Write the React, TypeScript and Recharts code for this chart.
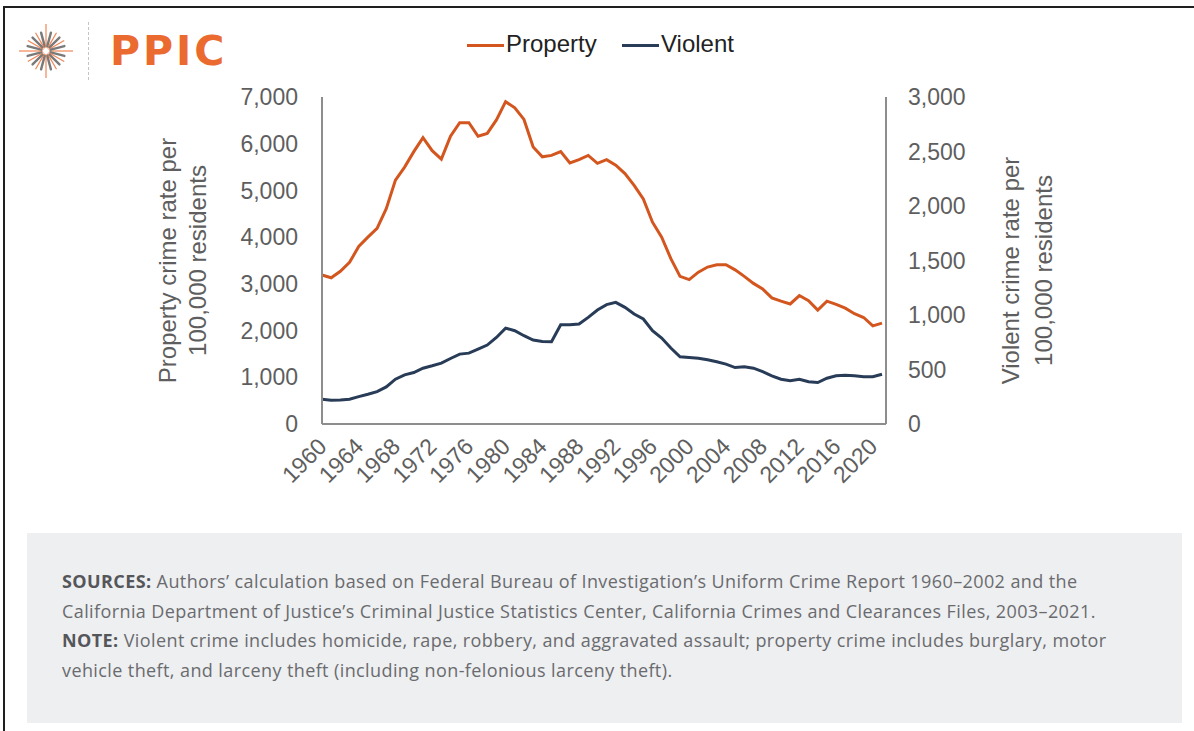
import React from "react";
import { LineChart, Line, XAxis, YAxis } from "recharts";

// Crime rates per 100,000 residents, California 1960–2021
const years = [
  1960, 1961, 1962, 1963, 1964, 1965, 1966, 1967, 1968, 1969,
  1970, 1971, 1972, 1973, 1974, 1975, 1976, 1977, 1978, 1979,
  1980, 1981, 1982, 1983, 1984, 1985, 1986, 1987, 1988, 1989,
  1990, 1991, 1992, 1993, 1994, 1995, 1996, 1997, 1998, 1999,
  2000, 2001, 2002, 2003, 2004, 2005, 2006, 2007, 2008, 2009,
  2010, 2011, 2012, 2013, 2014, 2015, 2016, 2017, 2018, 2019,
  2020, 2021,
];

const propertyRate = [
  3190, 3130, 3270, 3460, 3800, 4000, 4190, 4610, 5220, 5500,
  5830, 6130, 5850, 5670, 6160, 6450, 6450, 6160, 6220, 6510,
  6900, 6770, 6520, 5930, 5720, 5750, 5830, 5590, 5660, 5750,
  5580, 5660, 5540, 5360, 5110, 4820, 4320, 4000, 3540, 3160,
  3090, 3250, 3360, 3410, 3410, 3300, 3160, 3010, 2890, 2700,
  2630, 2570, 2750, 2640, 2440, 2630, 2560, 2480, 2360, 2280,
  2100, 2160,
];

const violentRate = [
  227, 218, 221, 227, 251, 273, 297, 340, 411, 451,
  472, 512, 534, 558, 601, 641, 650, 687, 724, 794,
  880, 856, 810, 770, 757, 754, 911, 911, 917, 978,
  1046, 1095, 1116, 1070, 1009, 963, 856, 789, 697, 617,
  610, 604, 589, 571, 549, 518, 525, 512, 481, 442,
  411, 396, 411, 387, 380, 420, 442, 448, 442, 433,
  433, 457,
];

const yearTicks = [
  1960, 1964, 1968, 1972, 1976, 1980, 1984, 1988,
  1992, 1996, 2000, 2004, 2008, 2012, 2016, 2020,
];
const propertyTicks = [0, 1000, 2000, 3000, 4000, 5000, 6000, 7000];
const violentTicks = [0, 500, 1000, 1500, 2000, 2500, 3000];

const series = [
  { key: "property", name: "Property", color: "#d4561f", axis: "left" },
  { key: "violent", name: "Violent", color: "#283c58", axis: "right" },
];

const data = years.map((year, i) => ({
  year,
  property: propertyRate[i],
  violent: violentRate[i],
}));

const FONT = "'Liberation Sans', Arial, sans-serif";
const TEXT_GRAY = "#5e5e5e";
const AXIS_GRAY = "#8d8d8d";

const fmt = (v: number) => v.toLocaleString("en-US");

function YearTick({ x, y, payload }: any) {
  const ax = x + 6;
  const ay = y + 22;
  return (
    <text
      x={ax}
      y={ay}
      transform={`rotate(-45, ${ax}, ${ay})`}
      textAnchor="end"
      fill={TEXT_GRAY}
      fontSize={23}
      fontFamily={FONT}
    >
      {payload.value}
    </text>
  );
}

function AxisTitle({ viewBox, lines, baseX, dy }: any) {
  const cy = viewBox.y + viewBox.height / 2 + (dy || 0);
  return (
    <g>
      {lines.map((line: string, i: number) => (
        <text
          key={line}
          x={baseX[i]}
          y={cy}
          transform={`rotate(-90, ${baseX[i]}, ${cy})`}
          textAnchor="middle"
          fill={TEXT_GRAY}
          fontSize={24}
          fontFamily={FONT}
        >
          {line}
        </text>
      ))}
    </g>
  );
}

function Logo() {
  const rays = [];
  for (let i = 0; i < 12; i++) {
    const a = (i * 30 * Math.PI) / 180;
    const long = i % 3 === 0 ? 27 : 21;
    rays.push(
      <line
        key={"o" + i}
        x1={Math.cos(a) * 3}
        y1={Math.sin(a) * 3}
        x2={Math.cos(a) * long}
        y2={Math.sin(a) * long}
        stroke="#ee7a45"
        strokeWidth={1.2}
        opacity={0.9}
      />
    );
    const b = ((i * 30 + 15) * Math.PI) / 180;
    rays.push(
      <line
        key={"g" + i}
        x1={Math.cos(b) * 5}
        y1={Math.sin(b) * 5}
        x2={Math.cos(b) * 19}
        y2={Math.sin(b) * 19}
        stroke="#7a7a7a"
        strokeWidth={2.4}
        strokeLinecap="round"
      />
    );
  }
  return (
    <>
      <svg
        width={70}
        height={70}
        style={{ position: "absolute", left: 11, top: 16 }}
      >
        <g transform="translate(35,35)">{rays}</g>
      </svg>
      <div
        style={{
          position: "absolute",
          left: 88,
          top: 22,
          height: 58,
          borderLeft: "1px dashed #c4c4c4",
        }}
      />
      <div
        style={{
          position: "absolute",
          left: 110,
          top: 26,
          fontFamily: "'DejaVu Sans', sans-serif",
          fontWeight: 700,
          fontSize: 41,
          lineHeight: "50px",
          color: "#ea6a2f",
          letterSpacing: 3,
        }}
      >
        PPIC
      </div>
    </>
  );
}

function LegendRow() {
  const lefts = [467, 622];
  return (
    <>
      {series.map((s, i) => (
        <div
          key={s.key}
          style={{
            position: "absolute",
            left: lefts[i],
            top: 29,
            display: "flex",
            alignItems: "center",
            fontFamily: FONT,
            fontSize: 24,
            color: "#222",
            lineHeight: "30px",
          }}
        >
          <span
            style={{
              display: "inline-block",
              width: 37,
              height: 3,
              background: s.color,
              marginRight: 2,
              marginTop: 2,
            }}
          />
          {s.name}
        </div>
      ))}
    </>
  );
}

export default function App() {
  return (
    <div
      style={{
        position: "absolute",
        left: 0,
        top: 0,
        width: 1194,
        height: 731,
        background: "#fff",
        overflow: "hidden",
      }}
    >
      <div
        style={{
          position: "absolute",
          left: 3,
          top: 6,
          right: -10,
          bottom: -10,
          borderTop: "2px solid #1f1f1f",
          borderLeft: "2px solid #1f1f1f",
        }}
      />
      <Logo />
      <LegendRow />
      <div style={{ position: "absolute", left: 0, top: 0 }}>
        <LineChart
          width={1194}
          height={520}
          data={data}
          margin={{ top: 97, right: 188, bottom: 20, left: 242 }}
        >
          <XAxis
            dataKey="year"
            type="number"
            domain={[1960, 2021]}
            ticks={yearTicks}
            interval={0}
            height={76}
            padding={{ left: 0, right: 4 }}
            tickLine={false}
            tickSize={0}
            axisLine={{ stroke: AXIS_GRAY, strokeWidth: 2 }}
            tick={<YearTick />}
          />
          <YAxis
            yAxisId="left"
            orientation="left"
            width={80}
            domain={[0, 7000]}
            ticks={propertyTicks}
            interval={0}
            tickFormatter={fmt}
            tickLine={false}
            tickSize={0}
            tickMargin={24}
            axisLine={{ stroke: AXIS_GRAY, strokeWidth: 2 }}
            tick={{ fill: TEXT_GRAY, fontSize: 23, fontFamily: FONT }}
            label={{
              content: (p: any) => (
                <AxisTitle
                  viewBox={p.viewBox}
                  lines={["Property crime rate per", "100,000 residents"]}
                  baseX={[176, 206]}
                  dy={0}
                />
              ),
            }}
          />
          <YAxis
            yAxisId="right"
            orientation="right"
            width={120}
            domain={[0, 3000]}
            ticks={violentTicks}
            interval={0}
            tickFormatter={fmt}
            tickLine={false}
            tickSize={0}
            tickMargin={22}
            axisLine={{ stroke: AXIS_GRAY, strokeWidth: 2 }}
            tick={{ fill: TEXT_GRAY, fontSize: 23, fontFamily: FONT }}
            label={{
              content: (p: any) => (
                <AxisTitle
                  viewBox={p.viewBox}
                  lines={["Violent crime rate per", "100,000 residents"]}
                  baseX={[1019, 1052]}
                  dy={10}
                />
              ),
            }}
          />
          {series.map((s) => (
            <Line
              key={s.key}
              yAxisId={s.axis}
              dataKey={s.key}
              name={s.name}
              type="linear"
              stroke={s.color}
              strokeWidth={3}
              dot={false}
              isAnimationActive={false}
            />
          ))}
        </LineChart>
      </div>
      <div
        style={{
          position: "absolute",
          left: 27,
          top: 533,
          width: 1155,
          height: 190,
          background: "#eeeff1",
        }}
      />
      <div
        style={{
          position: "absolute",
          left: 62,
          top: 567,
          width: 1110,
          fontFamily: "'Open Sans', sans-serif",
          fontSize: 18,
          letterSpacing: 0.4,
          lineHeight: "29.5px",
          color: "#6a6b6e",
          whiteSpace: "nowrap",
        }}
      >
        <div>
          <b style={{ color: "#55565a" }}>SOURCES:</b> Authors’ calculation based
          on Federal Bureau of Investigation’s Uniform Crime Report 1960–2002 and
          the
        </div>
        <div>
          California Department of Justice’s Criminal Justice Statistics Center,
          California Crimes and Clearances Files, 2003–2021.
        </div>
        <div>
          <b style={{ color: "#55565a" }}>NOTE:</b> Violent crime includes
          homicide, rape, robbery, and aggravated assault; property crime includes
          burglary, motor
        </div>
        <div>
          vehicle theft, and larceny theft (including non-felonious larceny
          theft).
        </div>
      </div>
    </div>
  );
}
